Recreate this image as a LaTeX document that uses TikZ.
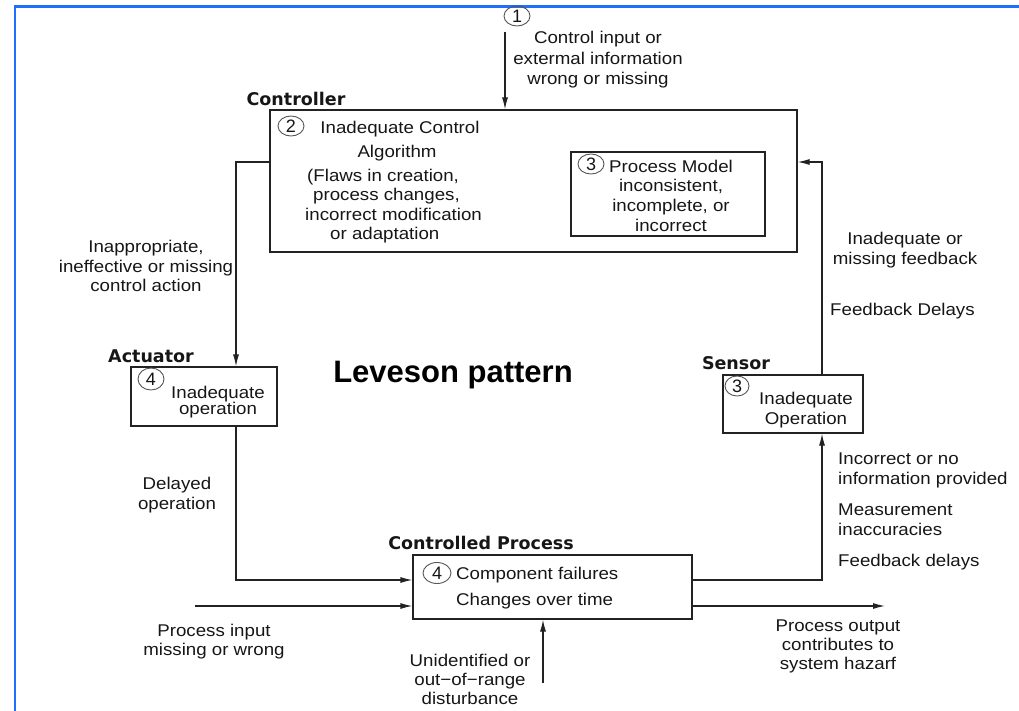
\documentclass[tikz,border=0pt]{standalone}
\usepackage{fontspec}
\setmainfont{Liberation Sans}[FakeStretch=1.1]
\newfontfamily\labelfont{DejaVu Sans}
\newfontfamily\titlefont{Liberation Sans}
\usetikzlibrary{arrows.meta,shapes.geometric}

\definecolor{ink}{HTML}{161616}
\definecolor{linegray}{HTML}{222222}
\definecolor{circgray}{HTML}{555555}
\definecolor{frameblue}{HTML}{1F6FFF}

\tikzset{
  box/.style={draw=linegray, line width=1.2pt, inner sep=0pt},
  conn/.style={draw=linegray, line width=1.2pt, -{Latex[length=12pt,width=6pt]}},
  txt/.style={inner sep=0pt, text=ink, font=\fontsize{17}{19.5}\selectfont, align=center},
  hdr/.style={inner sep=0pt, text=ink, font=\labelfont\bfseries\fontsize{17.5}{20}\selectfont},
  num/.style={ellipse, draw=circgray, line width=0.9pt, inner sep=0pt,
    minimum width=26pt, minimum height=20pt, text=ink,
    font=\titlefont\fontsize{18}{18}\selectfont},
}

\begin{document}
\begin{tikzpicture}[x=1pt, y=-1pt]
\useasboundingbox (0,0) rectangle (1019,711);

% page frame
\draw[frameblue, line width=2.5pt] (15,711) -- (15,6.5) -- (1019,6.5);

% boxes
\node[box, minimum width=527pt, minimum height=142pt] (ctrl) at (533.5,181) {};
\node[box, minimum width=194pt, minimum height=84pt] (pm) at (668,194) {};
\node[box, minimum width=146pt, minimum height=59pt] (act) at (204,396.5) {};
\node[box, minimum width=140pt, minimum height=58pt] (sen) at (793,404) {};
\node[box, minimum width=279pt, minimum height=64pt] (proc) at (552.5,587) {};

% numbered markers
\node[num] (n1) at (517,16) {1};
\node[num] (n2) at (291,126) {2};
\node[num] (n3a) at (591,164) {3};
\node[num, minimum height=22pt] (n4a) at (151,379) {4};
\node[num, minimum width=24pt] (n3b) at (737,386) {3};
\node[num, minimum width=28pt, minimum height=21pt] (n4b) at (437,573) {4};

% headings
\node[hdr] (hctrl) at (296,99) {Controller};
\node[hdr] (hact) at (151,356) {Actuator};
\node[hdr] (hsen) at (736,363) {Sensor};
\node[hdr] (hproc) at (481,543) {Controlled Process};
\node[inner sep=0pt, text=black, font=\titlefont\bfseries\fontsize{31}{31}\selectfont] (title) at (453,375) {Leveson pattern};

% texts inside boxes
\node[txt] (t2a) at (400,129) {Inadequate Control};
\node[txt] (t2b) at (397,153) {Algorithm};
\node[txt, align=left, anchor=west, font=\fontsize{17}{19.3}\selectfont] (t2c) at (305,206)
  {\hspace*{2pt}(Flaws in creation,\\\hspace*{8pt}process changes,\\incorrect modification\\\hspace*{25pt}or adaptation};
\node[txt, font=\fontsize{17}{19.7}\selectfont] (t3a) at (671,195.5) {Process Model\\inconsistent,\\incomplete, or\\incorrect};
\node[txt, font=\fontsize{17}{16.5}\selectfont] (t4a) at (218,402) {Inadequate\\operation};
\node[txt, font=\fontsize{17}{20.5}\selectfont] (t3b) at (806,410) {Inadequate\\Operation};
\node[txt, align=left, anchor=west, font=\fontsize{17}{26}\selectfont] (t4b) at (456,588) {Component failures\\Changes over time};

% connector labels
\node[txt, font=\fontsize{17}{20.5}\selectfont] (l1) at (598,60) {Control input or\\extermal information\\wrong or missing};
\node[txt] (lact) at (146,266) {Inappropriate,\\ineffective or missing\\control action};
\node[txt, font=\fontsize{17}{20}\selectfont] (ldel) at (177,495) {Delayed\\operation};
\node[txt, font=\fontsize{17}{19}\selectfont] (lin) at (214,642) {Process input\\missing or wrong};
\node[txt, font=\fontsize{17}{19}\selectfont] (ldist) at (470,679) {Unidentified or\\out\textminus of\textminus range\\disturbance};
\node[txt, font=\fontsize{17}{19}\selectfont] (lout) at (838,646) {Process output\\contributes to\\system hazarf};
\node[txt] (lfb) at (905,250) {Inadequate or\\missing feedback};
\node[txt, anchor=west] (lfd) at (830,311) {Feedback Delays};
\node[txt, align=left, anchor=west, font=\fontsize{17}{20}\selectfont] (linc) at (838,470) {Incorrect or no\\information provided};
\node[txt, align=left, anchor=west, font=\fontsize{17}{20}\selectfont] (lmeas) at (838,520) {Measurement\\inaccuracies};
\node[txt, anchor=west] (lfd2) at (838,562) {Feedback delays};

% connector bends and free ends
\coordinate (topin) at (505,32);
\coordinate (cl) at (236,162);
\coordinate (ab) at (236,580);
\coordinate (pin) at (195,606);
\coordinate (dist) at (543,683);
\coordinate (pout) at (885,606);
\coordinate (pr) at (822,580);
\coordinate (sc) at (822,162);

% connectors
\draw[conn] (topin) -- (topin |- ctrl.north);
\draw[conn] (ctrl.west |- cl) -- (cl) -- (cl |- act.north);
\draw[conn] (act.south -| ab) -- (ab) -- (ab -| proc.west);
\draw[conn] (pin) -- (pin -| proc.west);
\draw[conn] (dist) -- (dist |- proc.south);
\draw[conn] (proc.east |- pout) -- (pout);
\draw[conn] (proc.east |- pr) -- (pr) -- (pr |- sen.south);
\draw[conn] (sen.north -| sc) -- (sc) -- (sc -| ctrl.east);
\end{tikzpicture}
\end{document}
